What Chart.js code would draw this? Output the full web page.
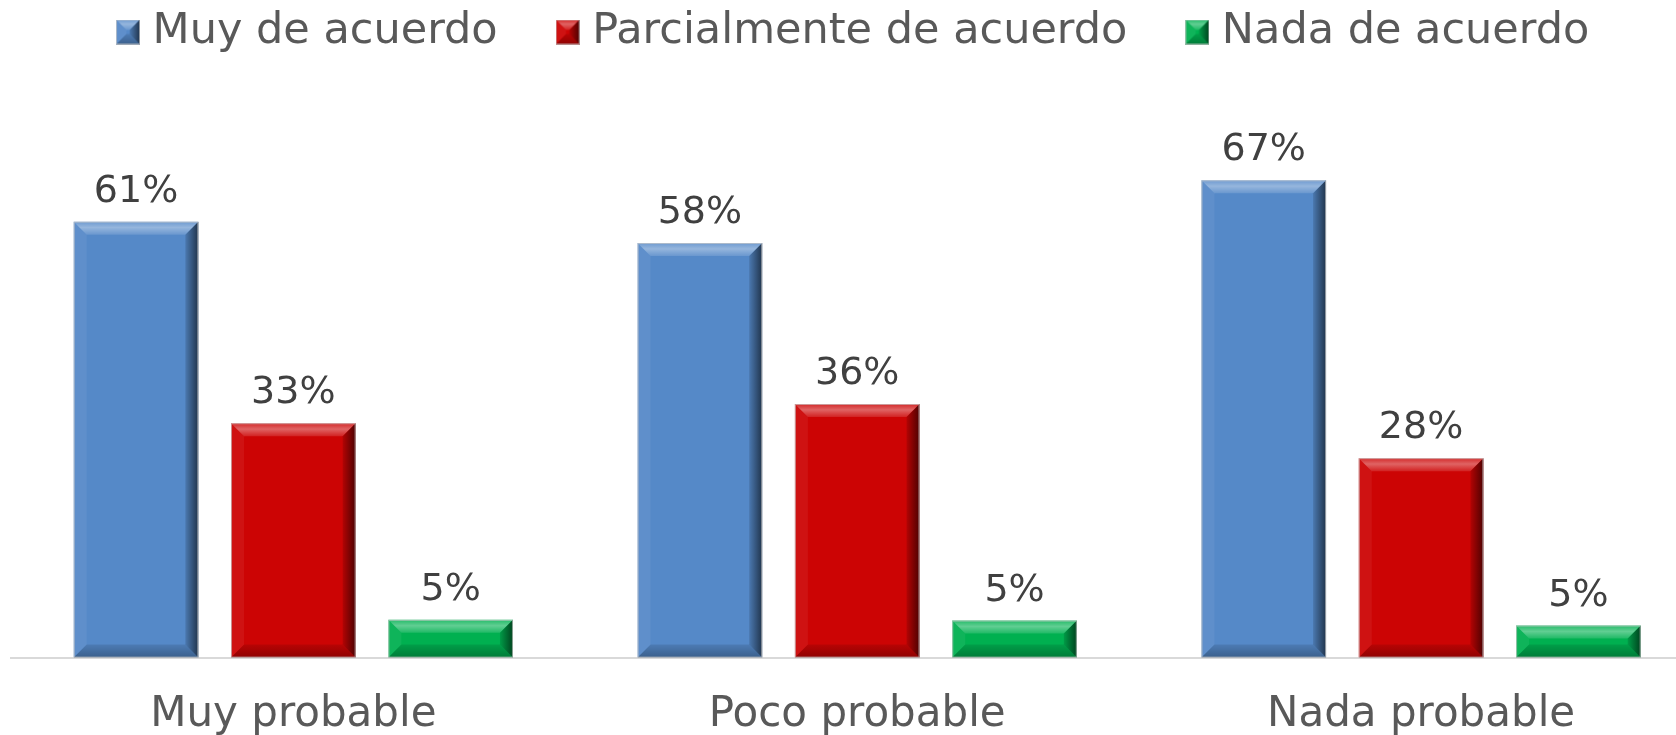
<!DOCTYPE html>
<html>
<head>
<meta charset="utf-8">
<script src="https://cdn.jsdelivr.net/npm/chart.js@4.4.0/dist/chart.umd.min.js"></script>
<style>
    html, body { margin: 0; padding: 0; background: #fff; overflow: hidden; }
    #wrap { width: 1676px; height: 735px; overflow: hidden; }
</style>
</head>
<body>
<div id="wrap"><canvas id="chart" width="1703" height="735"></canvas></div>
<script>
// datos
const categorias = ['Muy probable', 'Poco probable', 'Nada probable'];
const muyDeAcuerdo = [61.2, 58.2, 67.0];
const parcialmente = [32.9, 35.6, 28.0];
const nadaDeAcuerdo = [5.3, 5.2, 4.5];
const series = ['Muy de acuerdo', 'Parcialmente de acuerdo', 'Nada de acuerdo'];
const colores = ['#5589C8', '#CC0404', '#00B050'];

// dibuja el bisel sobre un rectangulo
function bevel(ctx, l, t, r, b, size) {
    const bv = Math.min(size, (b - t) / 2.4, (r - l) / 2);
    ctx.save();
    // arriba
    let g = ctx.createLinearGradient(0, t, 0, t + bv);
    g.addColorStop(0, 'rgba(255,255,255,0.15)');
    g.addColorStop(0.45, 'rgba(255,255,255,0.38)');
    g.addColorStop(1, 'rgba(255,255,255,0.12)');
    ctx.fillStyle = g;
    ctx.beginPath();
    ctx.moveTo(l, t); ctx.lineTo(r, t); ctx.lineTo(r - bv, t + bv); ctx.lineTo(l + bv, t + bv);
    ctx.closePath(); ctx.fill();
    // izquierda
    ctx.fillStyle = 'rgba(255,255,255,0.06)';
    ctx.beginPath();
    ctx.moveTo(l, t); ctx.lineTo(l + bv, t + bv); ctx.lineTo(l + bv, b - bv); ctx.lineTo(l, b);
    ctx.closePath(); ctx.fill();
    // derecha
    g = ctx.createLinearGradient(r - bv, 0, r, 0);
    g.addColorStop(0, 'rgba(0,0,0,0.12)');
    g.addColorStop(1, 'rgba(0,0,0,0.62)');
    ctx.fillStyle = g;
    ctx.beginPath();
    ctx.moveTo(r, t); ctx.lineTo(r, b); ctx.lineTo(r - bv, b - bv); ctx.lineTo(r - bv, t + bv);
    ctx.closePath(); ctx.fill();
    // abajo
    g = ctx.createLinearGradient(0, b - bv, 0, b);
    g.addColorStop(0, 'rgba(0,0,0,0.1)');
    g.addColorStop(1, 'rgba(0,0,0,0.3)');
    ctx.fillStyle = g;
    ctx.beginPath();
    ctx.moveTo(l, b); ctx.lineTo(r, b); ctx.lineTo(r - bv, b - bv); ctx.lineTo(l + bv, b - bv);
    ctx.closePath(); ctx.fill();
    // borde claro
    ctx.strokeStyle = 'rgba(200,200,200,0.7)';
    ctx.lineWidth = 1;
    ctx.strokeRect(l + 0.5, t + 0.5, r - l - 1, b - t - 1);
    ctx.restore();
}

// icono de la leyenda
function iconoLeyenda(color) {
    const c = document.createElement('canvas');
    c.width = 24; c.height = 25;
    const cx = c.getContext('2d');
    cx.fillStyle = color;
    cx.fillRect(0, 0, 24, 25);
    bevel(cx, 0, 0, 24, 25, 12);
    return c;
}

const biselPlugin = {
    id: 'bisel',
    afterDatasetsDraw(chart) {
        const ctx = chart.ctx;
        chart.data.datasets.forEach((ds, i) => {
            const meta = chart.getDatasetMeta(i);
            meta.data.forEach((bar, j) => {
                const l = bar.x - bar.width / 2;
                const r = bar.x + bar.width / 2;
                bevel(ctx, l, bar.y, r, bar.base, 13);
                // etiqueta
                ctx.save();
                ctx.fillStyle = '#404040';
                ctx.font = '38px "DejaVu Sans"';
                ctx.textAlign = 'center';
                ctx.textBaseline = 'alphabetic';
                ctx.fillText(Math.round(ds.data[j]) + '%', bar.x, bar.y - 20);
                ctx.restore();
            });
        });
    }
};

const ctx = document.getElementById('chart').getContext('2d');
const chart = new Chart(ctx, {
    type: 'bar',
    data: {
        labels: categorias,
        datasets: [muyDeAcuerdo, parcialmente, nadaDeAcuerdo].map((d, i) => ({
            label: series[i],
            data: d,
            backgroundColor: colores[i],
            borderWidth: 0,
            pointStyle: iconoLeyenda(colores[i]),
            categoryPercentage: 0.837,
            barPercentage: 0.792
        }))
    },
    options: {
        responsive: false,
        animation: false,
        layout: { padding: { left: 11.4, right: 0, top: -56.5, bottom: -29 } },
        plugins: {
            legend: {
                position: 'top',
                labels: {
                    usePointStyle: true,
                    pointStyleWidth: 6,
                    color: '#595959',
                    font: { family: '"DejaVu Sans"', size: 43 },
                    padding: 67
                }
            },
            tooltip: { enabled: false }
        },
        scales: {
            x: {
                grid: { display: false },
                border: { display: true, color: '#D9D9D9', width: 2 },
                ticks: {
                    color: '#595959',
                    font: { family: '"DejaVu Sans"', size: 42 },
                    padding: 24
                }
            },
            y: {
                display: false,
                min: 0,
                max: 83.4
            }
        }
    },
    plugins: [biselPlugin]
});
</script>
</body>
</html>
